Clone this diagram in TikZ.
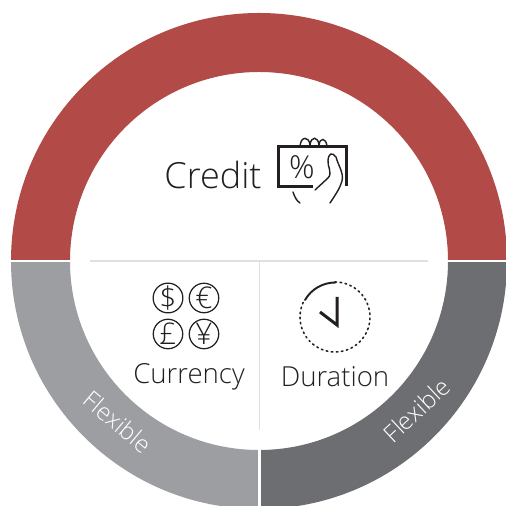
\documentclass[tikz,border=0pt]{standalone}
\usepackage{fontspec}
\setmainfont{Open Sans Light}
\definecolor{ringred}{HTML}{B24A47}
\definecolor{ringlight}{HTML}{9C9EA1}
\definecolor{ringdark}{HTML}{6D6E71}
\definecolor{icon}{HTML}{231F20}
\tikzset{
  sector/.style={ draw=none },
  title/.style={ text=icon, inner sep=0pt, font=\fontsize{20.5}{24}\selectfont },
  label/.style={ text=icon, inner sep=0pt, font=\fontsize{15.7}{18}\selectfont },
  flex/.style={ text=white, inner sep=0pt, font=\fontsize{13.7}{16}\selectfont },
  coin/.style={ draw=icon, circle, line width=0.7pt, minimum size=5.9mm, inner sep=0pt, text=icon, font=\fontsize{17}{19}\selectfont },
  divide/.style={ draw=black!12, line width=0.6pt },
  gap/.style={ draw=white, line width=1.2pt },
  stroke/.style={ draw=icon, line width=0.8pt, line cap=round }
}
\begin{document}
\begin{tikzpicture}[x=0.02cm,y=0.02cm]
  \useasboundingbox (0,0) rectangle (506,506);

  % ring
  \fill[sector, ringred] (11,245) arc (180:0:248) -- (448,245) arc (0:180:189) -- cycle;
  \fill[sector, ringlight] (11,245) arc (180:270:248) -- (259,56) arc (270:180:189) -- cycle;
  \fill[sector, ringdark] (507,245) arc (0:-90:248) -- (259,56) arc (-90:0:189) -- cycle;
  \coordinate (gapL1) at (5,245);
  \coordinate (gapL2) at (72,245);
  \coordinate (gapR1) at (446,245);
  \coordinate (gapR2) at (510,245);
  \coordinate (gapB1) at (259.5,-5);
  \coordinate (gapB2) at (259.5,58);
  \draw[gap] (gapL1) -- (gapL2);
  \draw[gap] (gapR1) -- (gapR2);
  \draw[gap] (gapB1) -- (gapB2);

  % dividers
  \coordinate (divL) at (90,245);
  \coordinate (divR) at (428,245);
  \coordinate (divT) at (259.5,245);
  \coordinate (divB) at (259.5,76);
  \draw[divide] (divL) -- (divR);
  \draw[divide] (divT) -- (divB);

  % texts
  \node[title] (credit) at (213,331) {Credit};
  \node[label] (currency) at (189,129.5) {Currency};
  \node[label] (duration) at (335,129.5) {Duration};
  \node[flex, rotate=-40] (flexL) at (118,84) {Flexible};
  \node[flex, rotate=43] (flexR) at (416.5,96) {Flexible};

  % percent icon
  \draw[stroke, line width=1.7pt, line cap=butt] (313,319) -- (278,319) -- (278,359) -- (346,359) -- (346,320);
  \node[text=icon, inner sep=0pt, font=\fontsize{18}{20}\selectfont] (pct) at (302,339) {\%};
  \draw[stroke] (300,360) .. controls (301,370) and (309,370) .. (310,361)
    .. controls (311,370) and (318,370) .. (319,361)
    .. controls (320,369) and (326,368) .. (327,360);
  \draw[stroke] (315,316) -- (328,328) .. controls (333,333) and (327,340) .. (328,346)
    .. controls (329,353) and (332,354) .. (336,349)
    .. controls (338,341) and (344,333) .. (342,325)
    .. controls (340,318) and (336,312) .. (330,303);
  \draw[stroke] (293,314) .. controls (295,308) and (297,305) .. (300,303);

  % currency icon
  \node[coin] (dollar) at (168,208) {\$};
  \node[coin] (euro) at (204,208) {€};
  \node[coin] (pound) at (168,172) {£};
  \node[coin] (yen) at (204,172) {¥};

  % clock icon
  \draw[stroke, line width=1.1pt] (305,206) arc (150:90:35);
  \draw[icon, line width=0.9pt, dotted, line cap=round] (335,224) arc (90:-210:35);
  \draw[stroke, line width=1.7pt, line cap=butt] (337,209) -- (337,181) -- (320,194);
\end{tikzpicture}
\end{document}
